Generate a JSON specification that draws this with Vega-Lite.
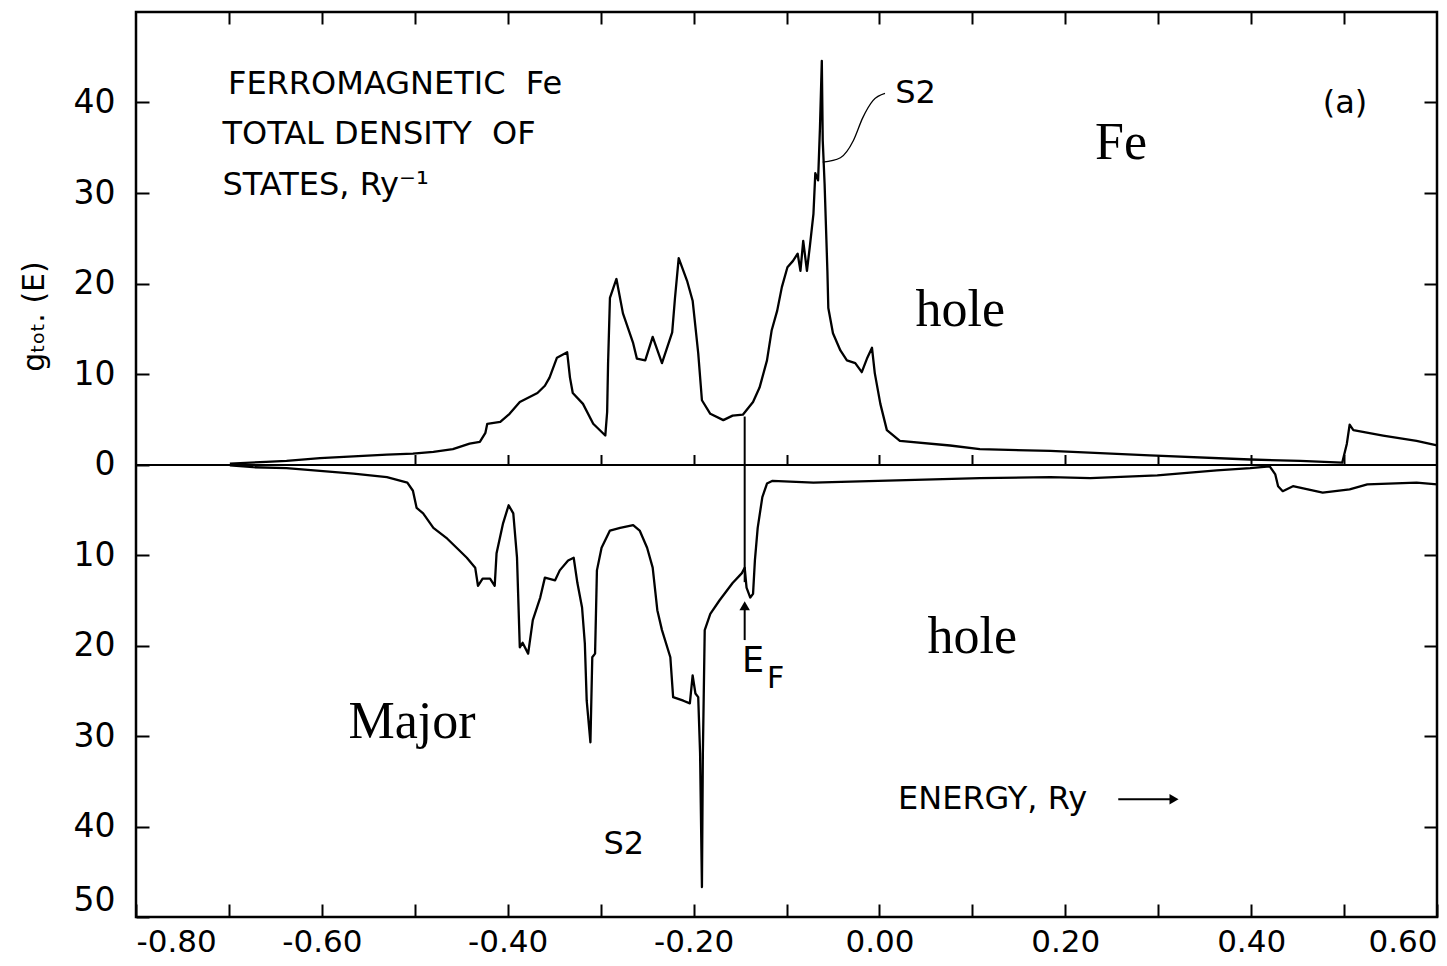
{
  "$schema": "https://vega.github.io/schema/vega-lite/v6.json",
  "width": 1301,
  "height": 905,
  "autosize": {"type": "none"},
  "padding": {"left": 136, "top": 12, "right": 10, "bottom": 49},
  "background": "white",
  "config": {
    "view": {"stroke": "black", "strokeWidth": 2.5},
    "font": "DejaVu Sans",
    "axis": {"labelFont": "DejaVu Sans", "labelColor": "black", "tickColor": "black", "domainColor": "black", "grid": false, "titleColor": "black", "titleFont": "DejaVu Sans"}
  },
  "datasets": {
    "dos": [
      {"E": -0.699, "g": 0.1, "spin": "up"}, {"E": -0.66, "g": 0.3, "spin": "up"}, {"E": -0.638, "g": 0.4, "spin": "up"}, {"E": -0.602, "g": 0.7, "spin": "up"}, {"E": -0.566, "g": 0.9, "spin": "up"}, {"E": -0.53, "g": 1.1, "spin": "up"}, {"E": -0.502, "g": 1.2, "spin": "up"}, {"E": -0.48, "g": 1.4, "spin": "up"}, {"E": -0.459, "g": 1.7, "spin": "up"}, {"E": -0.441, "g": 2.3, "spin": "up"}, {"E": -0.43, "g": 2.5, "spin": "up"}, {"E": -0.424, "g": 3.5, "spin": "up"}, {"E": -0.422, "g": 4.5, "spin": "up"}, {"E": -0.408, "g": 4.7, "spin": "up"}, {"E": -0.398, "g": 5.6, "spin": "up"}, {"E": -0.387, "g": 6.9, "spin": "up"}, {"E": -0.368, "g": 7.9, "spin": "up"}, {"E": -0.36, "g": 8.7, "spin": "up"}, {"E": -0.355, "g": 9.6, "spin": "up"}, {"E": -0.347, "g": 11.8, "spin": "up"}, {"E": -0.336, "g": 12.4, "spin": "up"}, {"E": -0.333, "g": 9.6, "spin": "up"}, {"E": -0.33, "g": 7.9, "spin": "up"}, {"E": -0.319, "g": 6.7, "spin": "up"}, {"E": -0.308, "g": 4.5, "spin": "up"}, {"E": -0.295, "g": 3.2, "spin": "up"}, {"E": -0.293, "g": 5.8, "spin": "up"}, {"E": -0.292, "g": 11.2, "spin": "up"}, {"E": -0.29, "g": 18.4, "spin": "up"}, {"E": -0.283, "g": 20.5, "spin": "up"}, {"E": -0.276, "g": 16.7, "spin": "up"}, {"E": -0.265, "g": 13.4, "spin": "up"}, {"E": -0.261, "g": 11.7, "spin": "up"}, {"E": -0.252, "g": 11.5, "spin": "up"}, {"E": -0.244, "g": 14.1, "spin": "up"}, {"E": -0.234, "g": 11.2, "spin": "up"}, {"E": -0.223, "g": 14.6, "spin": "up"}, {"E": -0.22, "g": 18.4, "spin": "up"}, {"E": -0.216, "g": 22.8, "spin": "up"}, {"E": -0.207, "g": 20.3, "spin": "up"}, {"E": -0.201, "g": 18.1, "spin": "up"}, {"E": -0.195, "g": 12.3, "spin": "up"}, {"E": -0.191, "g": 7.1, "spin": "up"}, {"E": -0.182, "g": 5.6, "spin": "up"}, {"E": -0.168, "g": 4.9, "spin": "up"}, {"E": -0.158, "g": 5.4, "spin": "up"}, {"E": -0.147, "g": 5.5, "spin": "up"}, {"E": -0.136, "g": 6.9, "spin": "up"}, {"E": -0.129, "g": 8.5, "spin": "up"}, {"E": -0.121, "g": 11.5, "spin": "up"}, {"E": -0.116, "g": 14.8, "spin": "up"}, {"E": -0.11, "g": 17.0, "spin": "up"}, {"E": -0.105, "g": 19.6, "spin": "up"}, {"E": -0.099, "g": 21.8, "spin": "up"}, {"E": -0.093, "g": 22.5, "spin": "up"}, {"E": -0.088, "g": 23.3, "spin": "up"}, {"E": -0.085, "g": 21.4, "spin": "up"}, {"E": -0.082, "g": 24.7, "spin": "up"}, {"E": -0.078, "g": 21.4, "spin": "up"}, {"E": -0.075, "g": 24.0, "spin": "up"}, {"E": -0.071, "g": 27.7, "spin": "up"}, {"E": -0.069, "g": 32.2, "spin": "up"}, {"E": -0.066, "g": 31.4, "spin": "up"}, {"E": -0.064, "g": 37.2, "spin": "up"}, {"E": -0.062, "g": 44.6, "spin": "up"}, {"E": -0.061, "g": 35.8, "spin": "up"}, {"E": -0.059, "g": 31.0, "spin": "up"}, {"E": -0.056, "g": 21.4, "spin": "up"}, {"E": -0.055, "g": 17.3, "spin": "up"}, {"E": -0.05, "g": 14.5, "spin": "up"}, {"E": -0.042, "g": 12.6, "spin": "up"}, {"E": -0.035, "g": 11.5, "spin": "up"}, {"E": -0.026, "g": 11.2, "spin": "up"}, {"E": -0.019, "g": 10.2, "spin": "up"}, {"E": -0.013, "g": 11.8, "spin": "up"}, {"E": -0.008, "g": 12.9, "spin": "up"}, {"E": -0.005, "g": 10.1, "spin": "up"}, {"E": 0.001, "g": 6.7, "spin": "up"}, {"E": 0.008, "g": 3.8, "spin": "up"}, {"E": 0.022, "g": 2.6, "spin": "up"}, {"E": 0.076, "g": 2.1, "spin": "up"}, {"E": 0.108, "g": 1.7, "spin": "up"}, {"E": 0.184, "g": 1.5, "spin": "up"}, {"E": 0.291, "g": 1.0, "spin": "up"}, {"E": 0.399, "g": 0.55, "spin": "up"}, {"E": 0.453, "g": 0.4, "spin": "up"}, {"E": 0.498, "g": 0.2, "spin": "up"}, {"E": 0.503, "g": 2.3, "spin": "up"}, {"E": 0.506, "g": 4.4, "spin": "up"}, {"E": 0.51, "g": 3.8, "spin": "up"}, {"E": 0.542, "g": 3.2, "spin": "up"}, {"E": 0.578, "g": 2.6, "spin": "up"}, {"E": 0.6, "g": 2.1, "spin": "up"},
      {"E": -0.699, "g": -0.1, "spin": "down"}, {"E": -0.674, "g": -0.3, "spin": "down"}, {"E": -0.638, "g": -0.4, "spin": "down"}, {"E": -0.602, "g": -0.7, "spin": "down"}, {"E": -0.566, "g": -1.0, "spin": "down"}, {"E": -0.53, "g": -1.4, "spin": "down"}, {"E": -0.508, "g": -2.0, "spin": "down"}, {"E": -0.502, "g": -2.9, "spin": "down"}, {"E": -0.498, "g": -4.8, "spin": "down"}, {"E": -0.491, "g": -5.4, "spin": "down"}, {"E": -0.48, "g": -7.0, "spin": "down"}, {"E": -0.465, "g": -8.2, "spin": "down"}, {"E": -0.455, "g": -9.2, "spin": "down"}, {"E": -0.444, "g": -10.3, "spin": "down"}, {"E": -0.435, "g": -11.4, "spin": "down"}, {"E": -0.432, "g": -13.4, "spin": "down"}, {"E": -0.427, "g": -12.6, "spin": "down"}, {"E": -0.419, "g": -12.6, "spin": "down"}, {"E": -0.414, "g": -13.4, "spin": "down"}, {"E": -0.412, "g": -9.8, "spin": "down"}, {"E": -0.405, "g": -6.5, "spin": "down"}, {"E": -0.399, "g": -4.5, "spin": "down"}, {"E": -0.394, "g": -5.4, "spin": "down"}, {"E": -0.39, "g": -10.3, "spin": "down"}, {"E": -0.387, "g": -20.2, "spin": "down"}, {"E": -0.384, "g": -19.7, "spin": "down"}, {"E": -0.378, "g": -20.9, "spin": "down"}, {"E": -0.373, "g": -17.2, "spin": "down"}, {"E": -0.365, "g": -14.7, "spin": "down"}, {"E": -0.36, "g": -12.5, "spin": "down"}, {"E": -0.349, "g": -12.8, "spin": "down"}, {"E": -0.344, "g": -11.7, "spin": "down"}, {"E": -0.335, "g": -10.6, "spin": "down"}, {"E": -0.329, "g": -10.3, "spin": "down"}, {"E": -0.325, "g": -13.1, "spin": "down"}, {"E": -0.32, "g": -15.8, "spin": "down"}, {"E": -0.317, "g": -19.8, "spin": "down"}, {"E": -0.315, "g": -26.1, "spin": "down"}, {"E": -0.311, "g": -30.7, "spin": "down"}, {"E": -0.309, "g": -21.3, "spin": "down"}, {"E": -0.306, "g": -20.9, "spin": "down"}, {"E": -0.304, "g": -11.7, "spin": "down"}, {"E": -0.299, "g": -9.2, "spin": "down"}, {"E": -0.29, "g": -7.3, "spin": "down"}, {"E": -0.279, "g": -7.0, "spin": "down"}, {"E": -0.265, "g": -6.7, "spin": "down"}, {"E": -0.258, "g": -7.3, "spin": "down"}, {"E": -0.25, "g": -9.2, "spin": "down"}, {"E": -0.244, "g": -11.4, "spin": "down"}, {"E": -0.239, "g": -16.1, "spin": "down"}, {"E": -0.234, "g": -18.3, "spin": "down"}, {"E": -0.225, "g": -21.3, "spin": "down"}, {"E": -0.222, "g": -25.7, "spin": "down"}, {"E": -0.211, "g": -26.1, "spin": "down"}, {"E": -0.204, "g": -26.4, "spin": "down"}, {"E": -0.201, "g": -23.3, "spin": "down"}, {"E": -0.198, "g": -25.3, "spin": "down"}, {"E": -0.195, "g": -25.7, "spin": "down"}, {"E": -0.193, "g": -31.9, "spin": "down"}, {"E": -0.191, "g": -46.7, "spin": "down"}, {"E": -0.19, "g": -31.9, "spin": "down"}, {"E": -0.188, "g": -18.3, "spin": "down"}, {"E": -0.182, "g": -16.5, "spin": "down"}, {"E": -0.172, "g": -15.0, "spin": "down"}, {"E": -0.158, "g": -13.1, "spin": "down"}, {"E": -0.148, "g": -12.0, "spin": "down"}, {"E": -0.145, "g": -11.4, "spin": "down"}, {"E": -0.143, "g": -13.6, "spin": "down"}, {"E": -0.139, "g": -14.7, "spin": "down"}, {"E": -0.136, "g": -14.3, "spin": "down"}, {"E": -0.134, "g": -10.6, "spin": "down"}, {"E": -0.131, "g": -7.0, "spin": "down"}, {"E": -0.126, "g": -3.6, "spin": "down"}, {"E": -0.121, "g": -2.1, "spin": "down"}, {"E": -0.115, "g": -1.8, "spin": "down"}, {"E": -0.071, "g": -2.0, "spin": "down"}, {"E": 0.108, "g": -1.5, "spin": "down"}, {"E": 0.184, "g": -1.4, "spin": "down"}, {"E": 0.227, "g": -1.5, "spin": "down"}, {"E": 0.299, "g": -1.2, "spin": "down"}, {"E": 0.363, "g": -0.66, "spin": "down"}, {"E": 0.399, "g": -0.4, "spin": "down"}, {"E": 0.42, "g": -0.2, "spin": "down"}, {"E": 0.426, "g": -1.1, "spin": "down"}, {"E": 0.429, "g": -2.4, "spin": "down"}, {"E": 0.434, "g": -2.95, "spin": "down"}, {"E": 0.445, "g": -2.4, "spin": "down"}, {"E": 0.477, "g": -3.1, "spin": "down"}, {"E": 0.506, "g": -2.75, "spin": "down"}, {"E": 0.525, "g": -2.2, "spin": "down"}, {"E": 0.578, "g": -2.0, "spin": "down"}, {"E": 0.6, "g": -2.2, "spin": "down"}
    ],
    "fermi": [{"E": -0.145, "g": 5.3, "g2": -13.0}],
    "fermiArrow": [{"E": -0.145, "g": -15.8, "g2": -19.4}],
    "fermiHead": [{"E": -0.145, "g": -15.6}],
    "energyArrow": [{"E": 0.257, "E2": 0.314, "g": -37.0}],
    "energyHead": [{"E": 0.317, "g": -37.0}],
    "leader": [{"E": -0.061, "g": 33.4}, {"E": -0.042, "g": 33.9}, {"E": -0.028, "g": 35.8}, {"E": -0.018, "g": 38.3}, {"E": -0.007, "g": 40.2}, {"E": 0.006, "g": 41.0}],
    "sans": [
      {"label": "FERROMAGNETIC\u00a0\u00a0Fe", "E": -0.701, "g": 42.0},
      {"label": "TOTAL DENSITY\u00a0\u00a0OF", "E": -0.707, "g": 36.5},
      {"label": "STATES, Ry⁻¹", "E": -0.707, "g": 30.9},
      {"label": "S2", "E": 0.017, "g": 41.0},
      {"label": "(a)", "E": 0.477, "g": 40.0},
      {"label": "S2", "E": -0.297, "g": -41.9},
      {"label": "ENERGY, Ry", "E": 0.02, "g": -37.0}
    ],
    "fermiE": [{"label": "E", "E": -0.148, "g": -21.7}],
    "fermiF": [{"label": "F", "E": -0.121, "g": -23.7}],
    "serif": [
      {"label": "Fe", "E": 0.26, "g": 33.8},
      {"label": "hole", "E": 0.087, "g": 15.3},
      {"label": "hole", "E": 0.1, "g": -20.8},
      {"label": "Major", "E": -0.503, "g": -30.2}
    ]
  },
  "resolve": {"axis": {"x": "independent", "y": "independent"}},
  "layer": [
    {
      "data": {"name": "dos"},
      "mark": {"type": "line", "color": "black", "strokeWidth": 2.3, "strokeJoin": "round"},
      "encoding": {
        "x": {"field": "E", "type": "quantitative", "scale": {"domain": [-0.8, 0.6], "nice": false, "zero": false},
          "axis": {"orient": "bottom", "values": [-0.8, -0.7, -0.6, -0.5, -0.4, -0.3, -0.2, -0.1, 0, 0.1, 0.2, 0.3, 0.4, 0.5, 0.6], "tickSize": -13, "tickWidth": 2, "labelExpr": "abs(round(datum.value*10)) % 2 == 0 ? replace(format(datum.value, '.2f'), '−', '-') : ''", "labelFontSize": 31, "labelPadding": 23, "labelOverlap": false, "labelFlush": true, "labelFlushOffset": 0, "domain": false, "title": null}},
        "y": {"field": "g", "type": "quantitative", "scale": {"domain": [-50, 50], "nice": false, "zero": false},
          "axis": {"orient": "left", "values": [-50, -40, -30, -20, -10, 0, 10, 20, 30, 40], "tickSize": -13, "tickWidth": 2, "labelExpr": "format(abs(datum.value), 'd')", "labelFontSize": 33, "labelPadding": 34, "labelOverlap": false, "labelFlush": false, "labelBaseline": {"condition": {"test": "datum.value == -50", "value": "bottom"}, "value": "middle"}, "domain": false,
            "title": "gₜₒₜ. (E)", "titleFontSize": 30, "titleFontWeight": "normal", "titleAngle": 270, "titleX": -93, "titleY": 304, "titleAlign": "center", "titleBaseline": "alphabetic"}},
        "detail": {"field": "spin", "type": "nominal"}
      }
    },
    {
      "data": {"name": "fermi"},
      "mark": {"type": "rule", "color": "black", "strokeWidth": 2},
      "encoding": {
        "x": {"field": "E", "type": "quantitative", "axis": {"orient": "top", "values": [-0.7, -0.6, -0.5, -0.4, -0.3, -0.2, -0.1, 0, 0.1, 0.2, 0.3, 0.4, 0.5], "tickSize": -12, "tickWidth": 2, "labels": false, "domain": false, "title": null}},
        "y": {"field": "g", "type": "quantitative", "axis": {"orient": "right", "values": [-40, -30, -20, -10, 10, 20, 30, 40], "tickSize": -13, "tickWidth": 2, "labels": false, "domain": false, "title": null}},
        "y2": {"field": "g2"}
      }
    },
    {
      "data": {"name": "fermiArrow"},
      "mark": {"type": "rule", "color": "black", "strokeWidth": 2},
      "encoding": {
        "x": {"field": "E", "type": "quantitative", "axis": {"orient": "bottom", "offset": -452.5, "values": [-0.5, -0.4, -0.3, -0.2, -0.1, 0, 0.1, 0.2, 0.3, 0.4, 0.5], "tickSize": -10, "tickWidth": 2, "labels": false, "domain": true, "domainWidth": 2, "title": null}},
        "y": {"field": "g", "type": "quantitative", "axis": null},
        "y2": {"field": "g2"}
      }
    },
    {
      "data": {"name": "fermiHead"},
      "mark": {"type": "point", "shape": "triangle-up", "filled": true, "color": "black", "size": 110, "opacity": 1},
      "encoding": {
        "x": {"field": "E", "type": "quantitative", "axis": null},
        "y": {"field": "g", "type": "quantitative", "axis": null}
      }
    },
    {
      "data": {"name": "energyArrow"},
      "mark": {"type": "rule", "color": "black", "strokeWidth": 2},
      "encoding": {
        "x": {"field": "E", "type": "quantitative", "axis": null},
        "x2": {"field": "E2"},
        "y": {"field": "g", "type": "quantitative", "axis": null}
      }
    },
    {
      "data": {"name": "energyHead"},
      "mark": {"type": "point", "shape": "triangle-right", "filled": true, "color": "black", "size": 110, "opacity": 1},
      "encoding": {
        "x": {"field": "E", "type": "quantitative", "axis": null},
        "y": {"field": "g", "type": "quantitative", "axis": null}
      }
    },
    {
      "data": {"name": "leader"},
      "mark": {"type": "line", "color": "black", "strokeWidth": 1.3, "interpolate": "monotone"},
      "encoding": {
        "x": {"field": "E", "type": "quantitative", "axis": null},
        "y": {"field": "g", "type": "quantitative", "axis": null}
      }
    },
    {
      "data": {"name": "sans"},
      "mark": {"type": "text", "font": "DejaVu Sans", "fontSize": 32, "align": "left", "baseline": "middle", "color": "black"},
      "encoding": {
        "x": {"field": "E", "type": "quantitative", "axis": null},
        "y": {"field": "g", "type": "quantitative", "axis": null},
        "text": {"field": "label"}
      }
    },
    {
      "data": {"name": "fermiE"},
      "mark": {"type": "text", "font": "DejaVu Sans", "fontSize": 35, "align": "left", "baseline": "middle", "color": "black"},
      "encoding": {
        "x": {"field": "E", "type": "quantitative", "axis": null},
        "y": {"field": "g", "type": "quantitative", "axis": null},
        "text": {"field": "label"}
      }
    },
    {
      "data": {"name": "fermiF"},
      "mark": {"type": "text", "font": "DejaVu Sans", "fontSize": 30, "align": "left", "baseline": "middle", "color": "black"},
      "encoding": {
        "x": {"field": "E", "type": "quantitative", "axis": null},
        "y": {"field": "g", "type": "quantitative", "axis": null},
        "text": {"field": "label"}
      }
    },
    {
      "data": {"name": "serif"},
      "mark": {"type": "text", "font": "Liberation Serif", "fontSize": 52, "align": "center", "baseline": "alphabetic", "color": "black"},
      "encoding": {
        "x": {"field": "E", "type": "quantitative", "axis": null},
        "y": {"field": "g", "type": "quantitative", "axis": null},
        "text": {"field": "label"}
      }
    }
  ]
}
